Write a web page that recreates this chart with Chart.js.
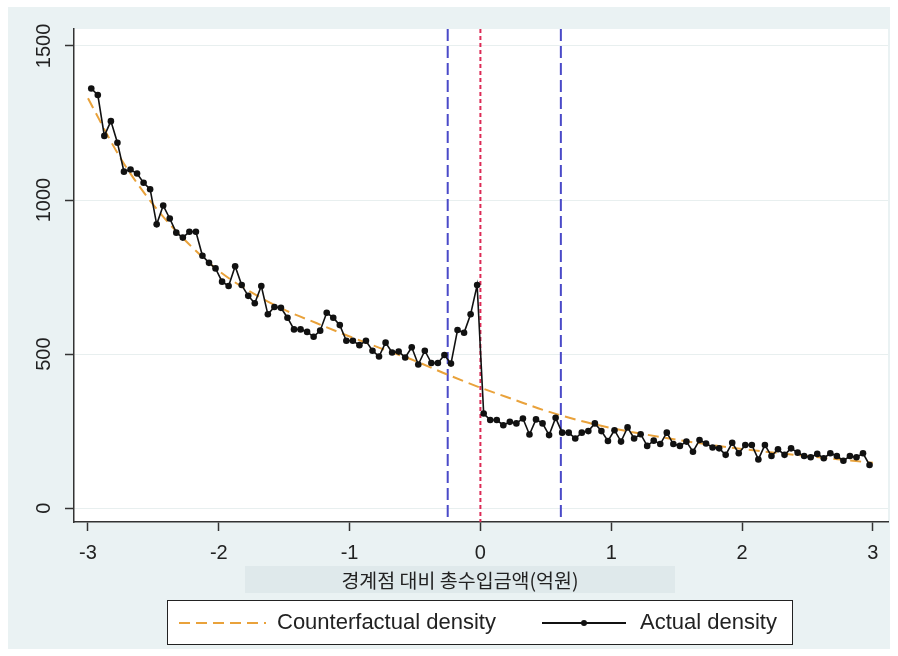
<!DOCTYPE html>
<html>
<head>
<meta charset="utf-8">
<script src="https://cdn.jsdelivr.net/npm/chart.js@4"></script>
<style>
    body { margin: 0; background: #fff; }
    #wrap { position: relative; width: 898px; height: 656px; }
    #chart { position: absolute; left: 0; top: 0; }
    #xtitle {
        position: absolute; left: 245px; top: 566px; width: 430px; height: 27px;
        background: #dfe9eb; color: #222; text-align: center;
        font: 19.5px "Noto Sans CJK KR", sans-serif; line-height: 27px;
    }
    #legend {
        position: absolute; left: 167px; top: 600px; width: 624px; height: 43px;
        border: 1.5px solid #222; background: #fff;
        font: 22px "Liberation Sans", Arial, sans-serif; color: #222;
    }
    #legend .txt { position: absolute; top: 8px; }
    #legend .dash {
        position: absolute; left: 11px; top: 21px; width: 87px; height: 2px;
        background: repeating-linear-gradient(90deg, #e9a23b 0 11px, transparent 11px 17px);
    }
    #legend .solid { position: absolute; left: 374px; top: 21px; width: 84px; height: 1.5px; background: #111; }
    #legend .dot { position: absolute; left: 413px; top: 19px; width: 6px; height: 6px; border-radius: 50%; background: #111; }
</style>
</head>
<body>
<div id="wrap">
    <canvas id="chart" width="898" height="656"></canvas>
    <div id="xtitle">경계점 대비 총수입금액(억원)</div>
    <div id="legend">
        <div class="dash"></div><div class="txt" style="left:109px">Counterfactual density</div>
        <div class="solid"></div><div class="dot"></div><div class="txt" style="left:472px">Actual density</div>
    </div>
</div>
<script>
// bin centres (width 0.05)
const bins = [
    -2.975, -2.925, -2.875, -2.825, -2.775, -2.725, -2.675, -2.625, -2.575, -2.525,
    -2.475, -2.425, -2.375, -2.325, -2.275, -2.225, -2.175, -2.125, -2.075, -2.025,
    -1.975, -1.925, -1.875, -1.825, -1.775, -1.725, -1.675, -1.625, -1.575, -1.525,
    -1.475, -1.425, -1.375, -1.325, -1.275, -1.225, -1.175, -1.125, -1.075, -1.025,
    -0.975, -0.925, -0.875, -0.825, -0.775, -0.725, -0.675, -0.625, -0.575, -0.525,
    -0.475, -0.425, -0.375, -0.325, -0.275, -0.225, -0.175, -0.125, -0.075, -0.025,
    0.025, 0.075, 0.125, 0.175, 0.225, 0.275, 0.325, 0.375, 0.425, 0.475,
    0.525, 0.575, 0.625, 0.675, 0.725, 0.775, 0.825, 0.875, 0.925, 0.975,
    1.025, 1.075, 1.125, 1.175, 1.225, 1.275, 1.325, 1.375, 1.425, 1.475,
    1.525, 1.575, 1.625, 1.675, 1.725, 1.775, 1.825, 1.875, 1.925, 1.975,
    2.025, 2.075, 2.125, 2.175, 2.225, 2.275, 2.325, 2.375, 2.425, 2.475,
    2.525, 2.575, 2.625, 2.675, 2.725, 2.775, 2.825, 2.875, 2.925, 2.975
];
const actual = [
    1362, 1341, 1208, 1256, 1186, 1092, 1099, 1086, 1056, 1035,
    921, 982, 940, 894, 878, 897, 897, 819, 796, 778,
    735, 721, 785, 724, 689, 665, 721, 629, 653, 650,
    618, 580, 580, 572, 556, 576, 634, 618, 594, 543,
    543, 529, 543, 511, 492, 537, 505, 508, 489, 522,
    466, 511, 471, 471, 497, 469, 578, 569, 629, 724,
    307, 286, 286, 269, 280, 275, 291, 239, 288, 275,
    237, 293, 245, 245, 226, 245, 250, 275, 250, 218,
    253, 216, 262, 226, 240, 202, 219, 208, 245, 208,
    202, 216, 183, 221, 210, 197, 194, 173, 212, 178,
    205, 205, 158, 205, 169, 191, 173, 194, 180, 169,
    165, 176, 162, 178, 169, 154, 169, 165, 178, 140
];
const cfX = [-3, -2.75, -2.5, -2.25, -2, -1.75, -1.5, -1.25, -1, -0.75, -0.5, -0.25, 0,
    0.25, 0.5, 0.75, 1, 1.25, 1.5, 1.75, 2, 2.25, 2.5, 2.75, 3];
const counterfactual = [1330, 1135, 984, 866, 770, 700, 644, 600, 557, 517, 478, 433, 391,
    353, 316, 285, 260, 240, 222, 206, 192, 180, 169, 158, 147];

const xTicks = [-3, -2, -1, 0, 1, 2, 3];
const yTicks = [0, 500, 1000, 1500];
const windowLines = [-0.25, 0.615]; // excluded region
const cutoff = [0];

const font = '"Liberation Sans", Arial, sans-serif';

// 배경 + 기준선 + 세로 눈금 라벨
const stataLook = {
    id: 'stataLook',
    beforeDraw(chart) {
        const { ctx, chartArea: a } = chart;
        ctx.save();
        ctx.fillStyle = '#eaf2f3';
        ctx.fillRect(8, 7, 882, 642);
        ctx.fillStyle = '#fff';
        ctx.fillRect(a.left, a.top, a.right - a.left, a.bottom - a.top);
        ctx.restore();
    },
    beforeDatasetsDraw(chart) {
        const { ctx, chartArea: a, scales: { x } } = chart;
        ctx.save();
        const draw = (v, color, dash, w) => {
            const px = x.getPixelForValue(v);
            ctx.strokeStyle = color;
            ctx.lineWidth = w;
            ctx.setLineDash(dash);
            ctx.beginPath();
            ctx.moveTo(px, a.top);
            ctx.lineTo(px, a.bottom);
            ctx.stroke();
        };
        windowLines.forEach(v => draw(v, '#4a4ac8', [12, 5], 2));
        cutoff.forEach(v => draw(v, '#dc2a55', [4, 3], 2));
        ctx.restore();
    },
    afterDraw(chart) {
        const { ctx, scales: { y } } = chart;
        ctx.save();
        ctx.fillStyle = '#222';
        ctx.font = '20px ' + font;
        ctx.textAlign = 'center';
        ctx.textBaseline = 'middle';
        yTicks.forEach(v => {
            ctx.save();
            ctx.translate(44, y.getPixelForValue(v));
            ctx.rotate(-Math.PI / 2);
            ctx.fillText(String(v), 0, 0);
            ctx.restore();
        });
        ctx.restore();
    }
};

new Chart(document.getElementById('chart').getContext('2d'), {
    type: 'line',
    data: {
        datasets: [
            {
                label: 'Counterfactual density',
                data: cfX.map((v, i) => ({ x: v, y: counterfactual[i] })),
                borderColor: '#e9a23b',
                borderWidth: 2,
                borderDash: [11, 6],
                pointRadius: 0,
                cubicInterpolationMode: 'monotone',
                order: 2
            },
            {
                label: 'Actual density',
                data: bins.map((v, i) => ({ x: v, y: actual[i] })),
                borderColor: '#111',
                borderWidth: 1.6,
                pointRadius: 3.3,
                pointBackgroundColor: '#111',
                pointBorderWidth: 0,
                order: 1
            }
        ]
    },
    options: {
        responsive: false,
        animation: false,
        layout: { padding: { top: 29, right: 10, left: 0, bottom: 0 } },
        plugins: { legend: { display: false }, tooltip: { enabled: false } },
        scales: {
            x: {
                type: 'linear',
                min: -3.107,
                max: 3.116,
                afterBuildTicks: s => { s.ticks = xTicks.map(v => ({ value: v })); },
                afterFit: s => { s.height = 134; },
                ticks: { font: { family: font, size: 20 }, color: '#222', padding: 10, autoSkip: false, maxRotation: 0 },
                grid: { drawOnChartArea: false, tickLength: 9, tickColor: '#333', tickWidth: 1.5 },
                border: { color: '#333', width: 1.5 }
            },
            y: {
                min: -45,
                max: 1555,
                afterBuildTicks: s => { s.ticks = yTicks.map(v => ({ value: v })); },
                afterFit: s => { s.width = 74; },
                ticks: { display: false },
                grid: { color: '#e8efef', lineWidth: 1, tickLength: 9, tickColor: '#333', tickWidth: 1.5 },
                border: { color: '#333', width: 1.5 }
            }
        }
    },
    plugins: [stataLook]
});
</script>
</body>
</html>
